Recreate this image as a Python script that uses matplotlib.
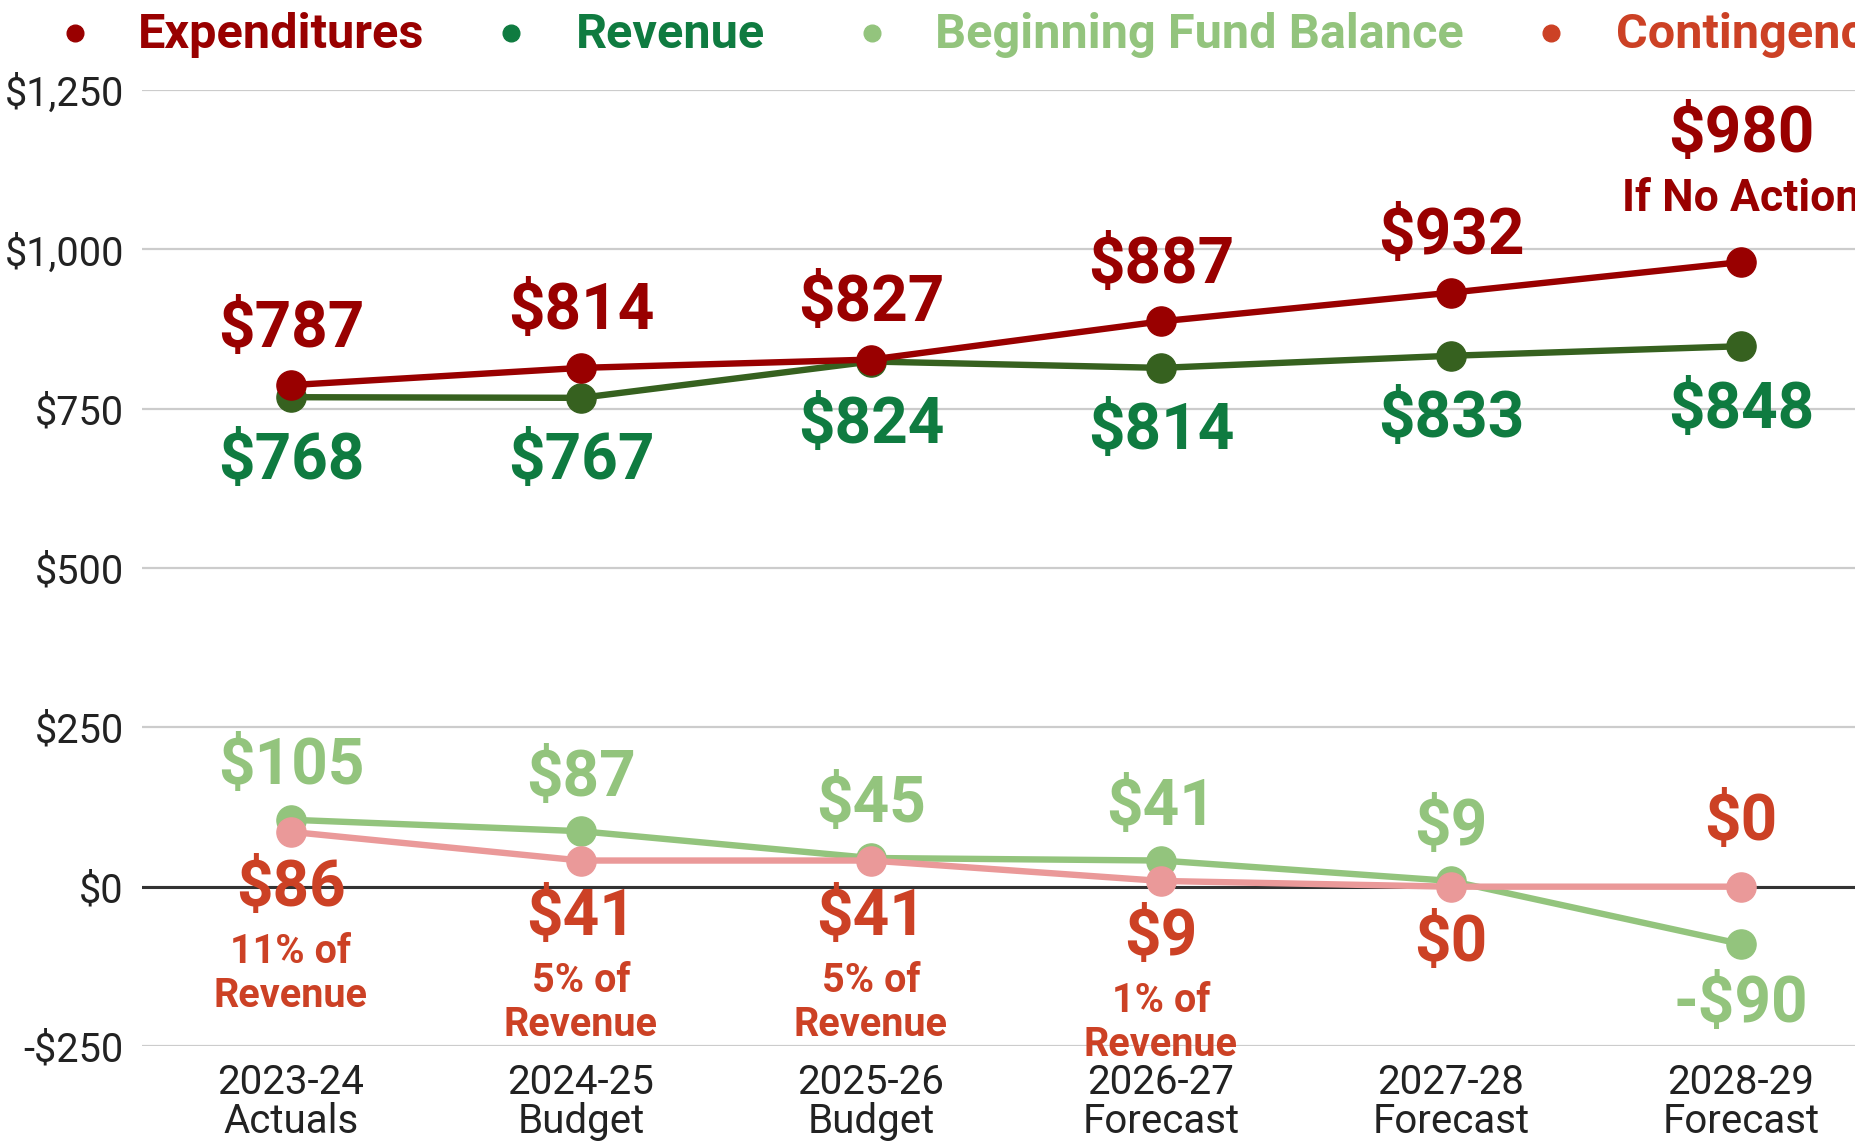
import numpy as np
import matplotlib
matplotlib.use("Agg")
import matplotlib.pyplot as plt
from matplotlib.lines import Line2D
from matplotlib.ticker import FuncFormatter

# ---------------------------------------------------------------------------
# data (in $ millions)
# ---------------------------------------------------------------------------
years = ["2023-24", "2024-25", "2025-26", "2026-27", "2027-28", "2028-29"]
kinds = ["Actuals", "Budget", "Budget", "Forecast", "Forecast", "Forecast"]

expenditures = [787, 814, 827, 887, 932, 980]
revenue = [768, 767, 824, 814, 833, 848]
beginning_balance = [105, 87, 45, 41, 9, -90]
contingency = [86, 41, 41, 9, 0, 0]
contingency_pct = ["11%", "5%", "5%", "1%", None, None]

series_names = ["Expenditures", "Revenue", "Beginning Fund Balance", "Contingency"]

# ---------------------------------------------------------------------------
# style
# ---------------------------------------------------------------------------
EXP = "#990000"
REV_LINE = "#36611f"
REV_TXT = "#0f7b40"
BFB = "#93c47d"
CON_LINE = "#ea9999"
CON_TXT = "#cc4125"

plt.rcParams["font.family"] = ["Roboto", "DejaVu Sans"]

W, H = 1856, 1147
fig = plt.figure(figsize=(W / 100, H / 100), dpi=100)
ax = fig.add_axes([142 / W, 1 - 1046 / H, 1 - 142 / W, (1046 - 90) / H])

x = np.arange(len(years))
LW = 4.6
MS = 21
ax.plot(x, beginning_balance, color=BFB, lw=LW, marker="o", ms=MS, zorder=3)
ax.plot(x, contingency, color=CON_LINE, lw=LW, marker="o", ms=MS, zorder=4)
ax.plot(x, revenue, color=REV_LINE, lw=LW, marker="o", ms=MS, zorder=5)
ax.plot(x, expenditures, color=EXP, lw=LW, marker="o", ms=MS, zorder=6)

ax.set_xlim(-149 / 290, (W - 291) / 290)
ax.set_ylim(-250, 1250)
ax.set_yticks(np.arange(-250, 1251, 250))
ax.yaxis.set_major_formatter(
    FuncFormatter(lambda v, p: f"-${abs(v):,.0f}" if v < 0 else f"${v:,.0f}"))
ax.grid(axis="y", color="#cccccc", lw=1.6)
ax.set_axisbelow(True)
ax.axhline(0, color="#333333", lw=2.2, zorder=2)
for s in ax.spines.values():
    s.set_visible(False)

ax.set_xticks(x)
ax.set_xticklabels([f"{y}\n{k}" for y, k in zip(years, kinds)], linespacing=1.0)
ax.tick_params(axis="y", length=0, labelsize=28.5, pad=13, labelcolor="#222222")
ax.tick_params(axis="x", length=0, labelsize=29, pad=12, labelcolor="#222222")


def money(v):
    return f"-${abs(v)}" if v < 0 else f"${v}"


def label(xi, yi, txt, dy, color, size=46, **kw):
    ax.annotate(txt, (xi, yi), xytext=(0, dy), textcoords="offset pixels",
                ha="center", va="center", color=color, fontsize=size,
                fontweight="bold", zorder=7, annotation_clip=False, **kw)


# expenditures above
for i, v in enumerate(expenditures):
    if i == len(expenditures) - 1:
        label(i, v, money(v), 128, EXP)
        label(i, v, "If No Action", 63, EXP, size=32)
    else:
        label(i, v, money(v), 56, EXP)

# revenue below
for i, v in enumerate(revenue):
    label(i, v, money(v), -64, REV_TXT)

# beginning fund balance: above, below when negative
for i, v in enumerate(beginning_balance):
    label(i, v, money(v), 53 if v >= 0 else -60, BFB)

# contingency: below, above on the last point
for i, v in enumerate(contingency):
    if i == len(contingency) - 1:
        label(i, v, money(v), 64, CON_TXT)
    else:
        label(i, v, money(v), -57, CON_TXT)
    if contingency_pct[i]:
        label(i, v, f"{contingency_pct[i]} of\nRevenue", -142, CON_TXT,
              size=28.5, linespacing=1.2)

# legend drawn across the top
leg_colors = [EXP, REV_TXT, BFB, CON_TXT]
dot_x = [75, 511, 872, 1551]
txt_x = [138, 576, 935, 1616]
for name, c, dx, tx in zip(series_names, leg_colors, dot_x, txt_x):
    fig.add_artist(Line2D([dx / W], [1 - 33 / H], transform=fig.transFigure,
                          marker="o", ms=12, color=c, ls=""))
    fig.text(tx / W, 1 - 35 / H, name, color=c, fontsize=35,
             fontweight="bold", ha="left", va="center")

fig.savefig("out.png", dpi=100, facecolor="white")
